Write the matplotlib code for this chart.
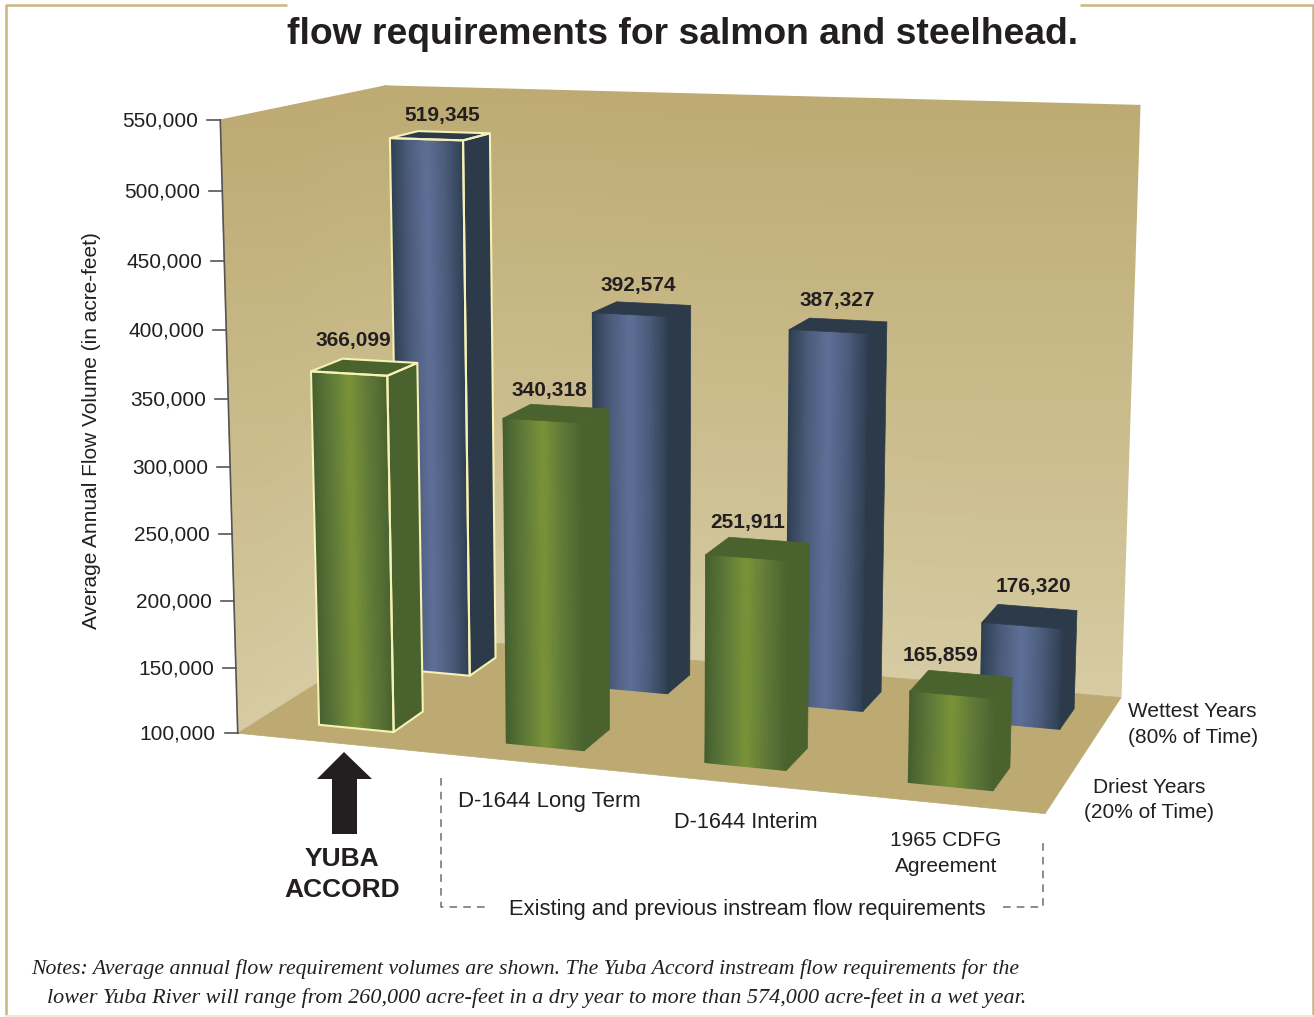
import numpy as np
import matplotlib
matplotlib.use("Agg")
import matplotlib.pyplot as plt
from matplotlib.colors import LinearSegmentedColormap
from matplotlib.patches import Polygon

# ---- data ----
categories = ["Yuba Accord", "D-1644 Long Term", "D-1644 Interim", "1965 CDFG Agreement"]
driest_years = [366099, 340318, 251911, 165859]
wettest_years = [519345, 392574, 387327, 176320]
tick_values = [100000, 150000, 200000, 250000, 300000, 350000, 400000, 450000, 500000, 550000]
highlighted = [True, False, False, False]

# ---- layout ----
V_MIN, V_MAX = 100000, 550000
BAR_W = 0.10
DRY_SLOTS = [0.080, 0.328, 0.580, 0.827]
WET_SLOTS = [0.075, 0.347, 0.604, 0.853]
DRY_Z = (0.13, 0.32)
WET_Z = (0.67, 0.86)
DRY_LABEL_OFF = [(4, -33), (7, -30), (1, -35), (-12, -39)]
WET_LABEL_OFF = [(16, -24), (8, -29), (9, -31), (11, -39)]

# perspective camera: box corners (x, depth, height) -> picture pixels
world = np.array([[0, 0, 0], [0, 0, 1], [1, 0, 0], [1, 1, 0], [0, 1, 0], [0, 1, 1], [1, 1, 1]], float)
pix = np.array([[238, 733], [220, 120], [1045, 817], [1122, 694], [390, 638], [390, 85], [1139, 106]], float)
fit_weight = [4, 4, 1, 1, 1, 1, 1]
A, b = [], []
for (x, z, h), (u, v), k in zip(world, pix, fit_weight):
    A.append([k * c for c in [x, z, h, 1, 0, 0, 0, 0, -u * x, -u * z, -u * h]]); b.append(k * u)
    A.append([k * c for c in [0, 0, 0, 0, x, z, h, 1, -v * x, -v * z, -v * h]]); b.append(k * v)
P = np.linalg.lstsq(np.array(A), np.array(b), rcond=None)[0]


def proj(x, z, h):
    x, z, h = np.broadcast_arrays(np.asarray(x, float), np.asarray(z, float), np.asarray(h, float))
    w = P[8] * x + P[9] * z + P[10] * h + 1
    return (P[0] * x + P[1] * z + P[2] * h + P[3]) / w, (P[4] * x + P[5] * z + P[6] * h + P[7]) / w


def height(v):
    return (v - V_MIN) / (V_MAX - V_MIN)


plt.rcParams["font.family"] = ["Liberation Sans", "DejaVu Sans"]
INK = "#231F20"
GOLD = "#C9B77F"
fig = plt.figure(figsize=(13.14, 10.17), dpi=100)
ax = fig.add_axes([0, 0, 1, 1])
ax.set_xlim(0, 1314)
ax.set_ylim(1017, 0)
ax.axis("off")

# frame
ax.plot([287, 6, 6], [5, 5, 1017], color=GOLD, lw=1.8, solid_capstyle="butt", zorder=1)
ax.plot([1080, 1313, 1313], [5, 5, 1017], color=GOLD, lw=1.8, solid_capstyle="butt", zorder=1)
ax.plot([6, 1313], [1016, 1016], color="#EFE9D6", lw=1.5, zorder=1)

# walls and floor
wall_cmap = LinearSegmentedColormap.from_list("wall", ["#D6CBA3", "#BDAB73"])


def wall(x0, z0, x1, z1):
    hs = np.linspace(0, 1, 12)
    X = np.array([proj(x0, z0, hs)[0], proj(x1, z1, hs)[0]])
    Y = np.array([proj(x0, z0, hs)[1], proj(x1, z1, hs)[1]])
    ax.pcolormesh(X, Y, np.array([hs, hs]), cmap=wall_cmap, vmin=0, vmax=1, shading="gouraud", zorder=2)


wall(0, 0, 0, 1)
wall(0, 1, 1, 1)
fx, fy = proj([0, 1, 1, 0], [0, 0, 1, 1], 0)
ax.add_patch(Polygon(np.c_[fx, fy], closed=True, fc="#BCAA72", ec="#BCAA72", lw=0.5, zorder=3))

# axis line, ticks, labels
ax.plot(*proj(0, 0, np.array([0.0, 1.0])), color="#555555", lw=1.2, zorder=4)
for t in tick_values:
    tx, ty = proj(0, 0, height(t))
    ax.plot([tx - 13, tx], [ty, ty], color="#555555", lw=1.2, zorder=4)
    ax.text(tx - 22, ty + 1, f"{t:,}", ha="right", va="center", fontsize=15, color=INK)

ax.text(92, 431, "Average Annual Flow Volume (in acre-feet)", rotation=90, ha="center", va="center",
        fontsize=15, color=INK)

# bars
GREEN = LinearSegmentedColormap.from_list("g", ["#45602F", "#5F7A38", "#7A9338", "#5F7A38", "#4A6330"])
BLUE = LinearSegmentedColormap.from_list("b", ["#2F3F52", "#4C5C7C", "#5F7099", "#4C5C7C", "#2F3F52"])


def bar(x0, value, zr, cmap, side, outline, offs):
    x1 = x0 + BAR_W
    z0, z1 = zr
    h = height(value)
    zo = 10 + (0 if zr is WET_Z else 10)
    xs = np.linspace(x0, x1, 24)
    T = np.linspace(0, 1, 24)
    ub, vb = proj(xs, z0, 0)
    ut, vt = proj(xs, z0, h)
    ax.pcolormesh(np.array([ub, ut]), np.array([vb, vt]), np.array([T, T]), cmap=cmap,
                  shading="gouraud", zorder=zo)
    su, sv = proj([x1, x1, x1, x1], [z0, z1, z1, z0], [0, 0, h, h])
    ax.add_patch(Polygon(np.c_[su, sv], closed=True, fc=side, ec=side, lw=0.5, zorder=zo))
    tu, tv = proj([x0, x1, x1, x0], [z0, z0, z1, z1], h)
    ax.add_patch(Polygon(np.c_[tu, tv], closed=True, fc=side, ec=side, lw=0.5, zorder=zo))
    if outline:
        fu, fv = proj([x0, x1, x1, x0], z0, [0, 0, h, h])
        for uu, vv in ((fu, fv), (su, sv), (tu, tv)):
            ax.add_patch(Polygon(np.c_[uu, vv], closed=True, fc="none", ec="#F6F1B4", lw=1.5,
                                 joinstyle="round", zorder=zo + 1))
    cu, cv = proj((x0 + x1) / 2, z0, h)
    ax.text(cu + offs[0], cv + offs[1], f"{value:,}", ha="center", va="center", fontsize=15,
            fontweight="bold", color=INK, zorder=40)


for i in range(len(categories)):
    bar(WET_SLOTS[i], wettest_years[i], WET_Z, BLUE, "#2C3A49", highlighted[i], WET_LABEL_OFF[i])
for i in range(len(categories)):
    bar(DRY_SLOTS[i], driest_years[i], DRY_Z, GREEN, "#4A632E", highlighted[i], DRY_LABEL_OFF[i])

# title
ax.text(683, 34, "flow requirements for salmon and steelhead.", ha="center", va="center", fontsize=26.85,
        fontweight="bold", color=INK)

# annotations
ax.text(1128, 724.5, "Wettest Years\n(80% of Time)", ha="left", va="center", fontsize=15, color=INK, linespacing=1.42)
ax.text(1149, 800, "Driest Years\n(20% of Time)", ha="center", va="center", fontsize=15, color=INK, linespacing=1.42)
ax.text(549, 802, "D-1644 Long Term", ha="center", va="center", fontsize=15.9, color=INK)
ax.text(746, 822, "D-1644 Interim", ha="center", va="center", fontsize=15.65, color=INK)
ax.text(946, 853.5, "1965 CDFG\nAgreement", ha="center", va="center", fontsize=15, color=INK, linespacing=1.45)
ax.text(747.5, 909, "Existing and previous instream flow requirements", ha="center", va="center", fontsize=15.73, color=INK)
ax.text(342, 874.5, "YUBA\nACCORD", ha="center", va="center", fontsize=19, fontweight="bold", color=INK, linespacing=1.37)

ax.add_patch(Polygon([[344, 752], [372, 779], [357, 779], [357, 834], [332, 834], [332, 779], [317, 779]],
                     closed=True, fc=INK, ec="none", zorder=5))
dash = dict(color="#6E6E6E", lw=1.1, dashes=(5, 4))
ax.plot([441, 441, 490], [778, 907, 907], **dash)
ax.plot([1003, 1043, 1043], [907, 907, 838], **dash)

# notes
note = dict(family="Liberation Serif", style="italic", color=INK, va="center", ha="left")
ax.text(31, 969, "Notes: Average annual flow requirement volumes are shown. The Yuba Accord instream flow requirements for the", fontsize=15.68, **note)
ax.text(47, 998, "lower Yuba River will range from 260,000 acre-feet in a dry year to more than 574,000 acre-feet in a wet year.", fontsize=15.94, **note)

fig.savefig("out.png", dpi=100)
